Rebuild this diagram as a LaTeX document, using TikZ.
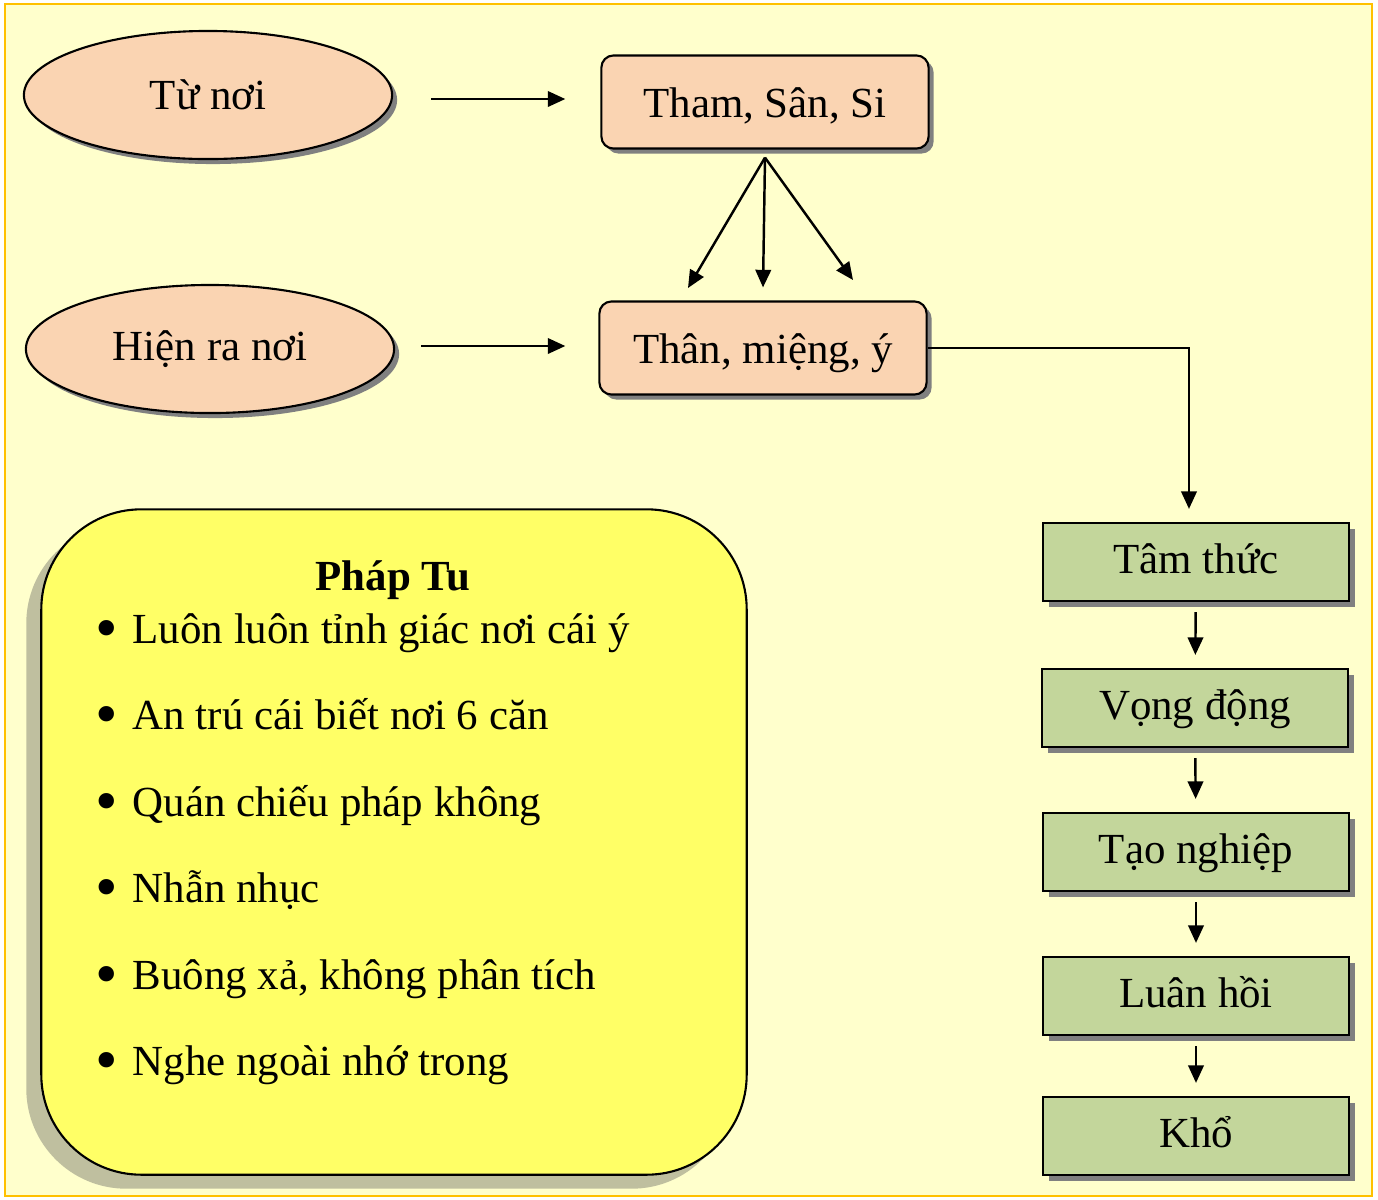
\documentclass[tikz,border=0pt]{standalone}
\usepackage{fontspec}
\setmainfont{Liberation Serif}
\usepackage{xcolor}
\usepackage{tikz}
\usetikzlibrary{positioning,arrows.meta,shapes.geometric,shadows}
\definecolor{pagebg}{HTML}{FFFFCC}
\definecolor{pageframe}{HTML}{FFC000}
\definecolor{peach}{HTML}{FAD4B2}
\definecolor{sage}{HTML}{C3D69B}
\definecolor{lemon}{HTML}{FFFF66}
\definecolor{lemonshade}{HTML}{BFBF9F}

\begin{document}
\begin{tikzpicture}[
    x=0.01cm, y=-0.01cm,
    font=\fontsize{12.2}{14}\selectfont,
    source/.style={ellipse, draw, line width=0.6pt, fill=peach, minimum width=3.68cm, minimum height=1.28cm,
        drop shadow={shadow xshift=0.05cm, shadow yshift=-0.05cm, fill=gray, opacity=1}},
    cause/.style={draw, rounded corners=0.12cm, line width=0.6pt, fill=peach, minimum width=3.27cm, minimum height=0.93cm,
        text height=0.34cm, text depth=0.04cm,
        drop shadow={shadow xshift=0.05cm, shadow yshift=-0.05cm, fill=gray, opacity=1}},
    stage/.style={draw, line width=0.6pt, fill=sage, minimum width=3.05cm, minimum height=0.78cm,
        text height=0.3cm, text depth=0.08cm,
        drop shadow={shadow xshift=0.06cm, shadow yshift=-0.06cm, fill=gray, opacity=1}},
    practice/.style={draw, rounded corners=1cm, line width=0.6pt, fill=lemon, minimum width=7.05cm, minimum height=6.65cm,
        drop shadow={shadow xshift=-0.15cm, shadow yshift=-0.14cm, fill=lemonshade, opacity=1}},
    arr/.style={-{Triangle[length=5pt, width=4.4pt]}, line width=0.7pt}
]
    \useasboundingbox (0,0) rectangle (1378,1199);
    \draw[fill=pagebg, draw=pageframe, line width=0.6pt] (5,4) rectangle (1372,1196);

    \node[source] (tunoi) at (208,95) {Từ nơi};
    \node[source] (hienra) at (210,349) {Hiện ra nơi};
    \node[cause] (tham) at (765,102) {Tham, Sân, Si};
    \node[cause] (than) at (763,348) {Thân, miệng, ý};

    \node[practice] (phaptu) at (394,842) {};
    \node[font=\fontsize{12.2}{14}\selectfont\bfseries, anchor=base] (title) at (393,590) {Pháp Tu};
    \foreach \txt [count=\i] in {Luôn luôn tỉnh giác nơi cái ý, An trú cái biết nơi 6 căn, Quán chiếu pháp không,
        Nhẫn nhục, {Buông xả, không phân tích}, Nghe ngoài nhớ trong}
        \node[anchor=base west, inner sep=0pt] (item\i) at (95,643+86.5*\i-86.5)
            {\makebox[0.37cm][l]{\raisebox{-0.06cm}{\scalebox{1.5}{\textbullet}}}\txt};

    \node[stage] (tam) at (1196,562) {Tâm thức};
    \node[stage] (vong) at (1195,708) {Vọng động};
    \node[stage] (tao) at (1196,852) {Tạo nghiệp};
    \node[stage] (luan) at (1196,996) {Luân hồi};
    \node[stage] (kho) at (1196,1136) {Khổ};

    \coordinate (leftend) at (688,288);
    \coordinate (rightend) at (853,280);

    \draw[arr, shorten <=0.38cm, shorten >=0.35cm] ([yshift=-0.04cm]tunoi.east) -- ([yshift=-0.04cm]tunoi.east -| tham.west);
    \draw[arr, shorten <=0.26cm, shorten >=0.33cm] ([yshift=0.03cm]hienra.east) -- ([yshift=0.03cm]hienra.east -| than.west);
    \draw[arr] ([yshift=-0.08cm]tham.south) -- (leftend);
    \draw[arr] ([yshift=-0.08cm]tham.south) -- ([yshift=0.13cm]than.north);
    \draw[arr] ([yshift=-0.08cm]tham.south) -- (rightend);
    \draw[arr] (than.east) -| ([xshift=-0.07cm, yshift=0.13cm]tam.north);
    \draw[arr, shorten <=0.1cm, shorten >=0.13cm] (tam) -- (vong);
    \draw[arr, shorten <=0.1cm, shorten >=0.13cm] (vong) -- (tao);
    \draw[arr, shorten <=0.1cm, shorten >=0.13cm] (tao) -- (luan);
    \draw[arr, shorten <=0.1cm, shorten >=0.13cm] (luan) -- (kho);
\end{tikzpicture}
\end{document}
